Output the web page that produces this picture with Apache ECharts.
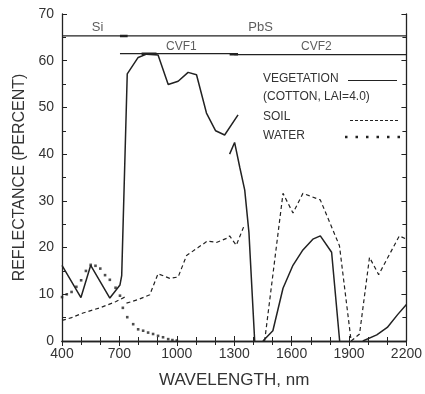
<!DOCTYPE html>
<html lang="en">
    <head>
        <meta charset="UTF-8">
        <title>Reflectance spectra</title>
        <script src="https://cdn.jsdelivr.net/npm/echarts@6/dist/echarts.min.js"></script>
        <style>
            html, body { margin: 0; padding: 0; background: #fff; }
        </style>
    </head>
    <body>
        <div id="main" style="width: 425px;height:394px;"></div>
        <script>
            var xTicks = [400, 700, 1000, 1300, 1600, 1900, 2200];
            var yTicks = [0, 10, 20, 30, 40, 50, 60, 70];

            // vegetation (cotton, LAI=4.0), one array per detector / gap segment
            var veg1 = [[400,16.2],[499,9.3],[550,16.2],[650,9.2],[703,12],[712,14],[741,57.2],[798,60.7],[842,61.4],[902,61.2],[955,54.9],[1007,55.6],[1059,57.5],[1103,57.0],[1155,48.8],[1203,45.0],[1250,44.1],[1320,48.4]];
            var veg2 = [[1276,40.0],[1302,42.5],[1329,37.2],[1355,32.3],[1377,23.2],[1407,0]];
            var veg3 = [[1450,0],[1502,2.2],[1555,11.3],[1607,16.2],[1659,19.5],[1711,21.8],[1750,22.5],[1809,19.0],[1851,0]];
            var veg4 = [[1972,0],[2045,1.3],[2100,2.9],[2155,5.7],[2200,7.8]];

            // soil
            var soil1 = [[400,4.4],[450,5.0],[510,6.0],[598,7.1],[680,8.4],[737,9.6]];
            var soil2 = [[737,8.1],[800,8.9],[859,9.9],[902,14.4],[963,13.4],[1007,13.7],[1051,18.3],[1111,20.0],[1160,21.4],[1207,21.1],[1262,22.0],[1276,22.5],[1311,20.5],[1350,24.5]];
            var soil3 = [[1459,0],[1555,31.6],[1607,27.4],[1659,31.6],[1750,30.2],[1850,20.4],[1911,0],[1955,1.5],[2007,17.9],[2055,14.2],[2163,22.5],[2200,21.8]];

            // water
            var water = [[400,9.4],[425,10.0],[450,10.5],[475,11.6],[500,13.0],[525,15.0],[550,16.3],[575,16.1],[600,15.5],[625,14.1],[650,13.1],[680,11.4],[703,9.7],[718,7.1],[741,5.1],[772,3.6],[798,2.5],[824,2.2],[850,1.8],[876,1.5],[902,1.1],[928,0.8],[955,0.4],[977,0.2],[1000,0.1]];

            // detector bands across the top
            var bandDet = [[400,65.3],[2200,65.3]];
            var bandDetMark = [[703,65.3],[743,65.3]];
            var bandCvf1 = [[703,61.5],[1300,61.5]];
            var bandCvf2 = [[1300,61.3],[2200,61.3]];
            var bandCvfMarks1 = [[816,61.5],[894,61.5]];
            var bandCvfMarks2 = [[1276,61.4],[1320,61.4]];
            var bandLabels = [
                {name: 'Si', value: [586, 67.2], size: 13},
                {name: 'PbS', value: [1438, 67.2], size: 13},
                {name: 'CVF1', value: [1024, 63.1], size: 12},
                {name: 'CVF2', value: [1729, 63.1], size: 12}
            ];

            var ink = '#222';
            var font = 'Liberation Sans';

            function lineSeries(data, type, width) {
                return {
                    type: 'line',
                    data: data,
                    showSymbol: false,
                    silent: true,
                    lineStyle: {color: ink, width: width || 1.5, type: type || 'solid'}
                };
            }

            var myChart = echarts.init(document.getElementById('main'));

            var axisCommon = {
                type: 'value',
                axisLine: {show: true, lineStyle: {color: ink, width: 1.3}},
                axisTick: {show: true, inside: true, length: 5, lineStyle: {color: ink, width: 1}},
                minorTick: {show: true, length: 4, lineStyle: {color: ink, width: 1}},
                splitLine: {show: false},
                axisLabel: {color: '#333', fontSize: 14, fontFamily: font, formatter: function (v) { return String(v); }}
            };

            var series = [
                lineSeries(veg1), lineSeries(veg2), lineSeries(veg3), lineSeries(veg4),
                lineSeries(soil1, [4, 3], 1.2), lineSeries(soil2, [4, 3], 1.2), lineSeries(soil3, [4, 3], 1.2),
                {
                    type: 'scatter',
                    data: water,
                    symbol: 'rect',
                    symbolSize: 2.6,
                    silent: true,
                    itemStyle: {color: ink}
                },
                lineSeries(bandDet, 'solid', 1.3),
                lineSeries(bandDetMark, 'solid', 2.5),
                lineSeries(bandCvf1, 'solid', 1.3),
                lineSeries(bandCvf2, 'solid', 1.3),
                lineSeries(bandCvfMarks1, 'solid', 2.5),
                lineSeries(bandCvfMarks2, 'solid', 2.5),
                {
                    type: 'scatter',
                    symbolSize: 0,
                    silent: true,
                    data: bandLabels.map(function (d) {
                        return {name: d.name, value: d.value, label: {fontSize: d.size}};
                    }),
                    label: {
                        show: true,
                        position: 'inside',
                        formatter: '{b}',
                        color: '#333',
                        fontFamily: font
                    }
                }
            ];

            var legendX = 263;
            var option = {
                animation: false,
                textStyle: {fontFamily: font},
                grid: {left: 62, right: 17, top: 14, bottom: 47},
                xAxis: [
                    Object.assign({}, axisCommon, {
                        min: xTicks[0], max: xTicks[xTicks.length - 1], interval: 300,
                        minorTick: Object.assign({}, axisCommon.minorTick, {splitNumber: 3}),
                        axisLabel: Object.assign({}, axisCommon.axisLabel, {margin: 6}),
                        name: 'WAVELENGTH, nm',
                        nameLocation: 'middle',
                        nameGap: 31,
                        nameTextStyle: {fontSize: 17, color: '#333', fontFamily: font}
                    }),
                    Object.assign({}, axisCommon, {
                        position: 'top',
                        min: xTicks[0], max: xTicks[xTicks.length - 1], interval: 300,
                        minorTick: Object.assign({}, axisCommon.minorTick, {splitNumber: 3}),
                        axisLabel: {show: false}
                    })
                ],
                yAxis: [
                    Object.assign({}, axisCommon, {
                        min: yTicks[0], max: yTicks[yTicks.length - 1], interval: 10,
                        minorTick: Object.assign({}, axisCommon.minorTick, {splitNumber: 2}),
                        axisLabel: Object.assign({}, axisCommon.axisLabel, {margin: 8}),
                        name: 'REFLECTANCE (PERCENT)',
                        nameLocation: 'middle',
                        nameGap: 32,
                        nameTextStyle: {fontSize: 16, color: '#333', fontFamily: font}
                    }),
                    Object.assign({}, axisCommon, {
                        position: 'right',
                        min: yTicks[0], max: yTicks[yTicks.length - 1], interval: 10,
                        minorTick: Object.assign({}, axisCommon.minorTick, {splitNumber: 2}),
                        axisLabel: {show: false}
                    })
                ],
                graphic: [
                    {type: 'text', left: legendX, top: 73, style: {text: 'VEGETATION', fontSize: 12, fill: '#333', fontFamily: font}},
                    {type: 'line', shape: {x1: 348, y1: 80.5, x2: 397, y2: 80.5}, style: {stroke: ink, lineWidth: 1.2}},
                    {type: 'text', left: legendX, top: 91, style: {text: '(COTTON, LAI=4.0)', fontSize: 12, fill: '#333', fontFamily: font}},
                    {type: 'text', left: legendX, top: 111, style: {text: 'SOIL', fontSize: 12, fill: '#333', fontFamily: font}},
                    {type: 'line', shape: {x1: 350, y1: 120.5, x2: 398, y2: 120.5}, style: {stroke: ink, lineWidth: 1, lineDash: [3, 2]}},
                    {type: 'text', left: legendX, top: 130, style: {text: 'WATER', fontSize: 12, fill: '#333', fontFamily: font}},
                    {type: 'line', shape: {x1: 345, y1: 137, x2: 400, y2: 137}, style: {stroke: ink, lineWidth: 2.5, lineDash: [2.5, 8]}}
                ],
                series: series
            };

            myChart.setOption(option);
        </script>
    </body>
</html>
